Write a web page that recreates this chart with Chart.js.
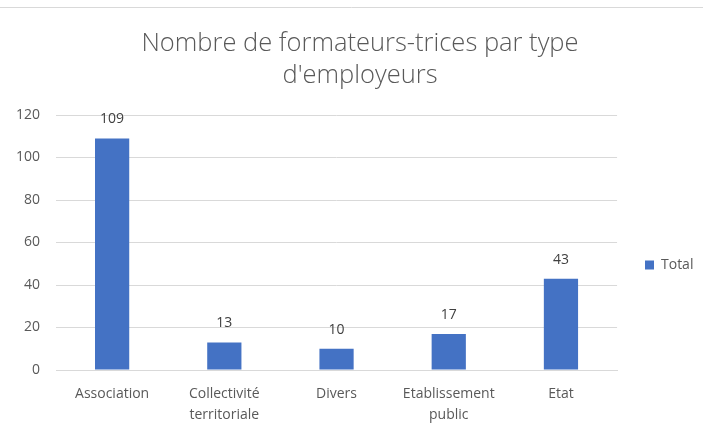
<!DOCTYPE html>
<html>
<head>
<meta charset="utf-8">
<script src="https://cdn.jsdelivr.net/npm/chart.js@4/dist/chart.umd.min.js"></script>
<style>
html,body{margin:0;padding:0;background:#fff;}
#wrap{width:703px;height:432px;position:relative;}
</style>
</head>
<body>
<div id="wrap"><canvas id="c" width="703" height="432"></canvas></div>
<script>
const categories = [["Association"], ["Collectivité", "territoriale"], ["Divers"], ["Etablissement", "public"], ["Etat"]];
const totals = [109, 13, 10, 17, 43];
const seriesName = "Total";
const titleLines = ["Nombre de formateurs-trices par type", "d'employeurs"];
const yTicks = [0, 20, 40, 60, 80, 100, 120];

const fontFam = "'Open Sans', 'Liberation Sans', sans-serif";

const topLine = {
  id: 'topLine',
  beforeDraw(chart) {
    const ctx = chart.ctx;
    ctx.save();
    ctx.fillStyle = '#ffffff';
    ctx.fillRect(0, 0, chart.width, chart.height);
    ctx.strokeStyle = '#d9d9d9';
    ctx.lineWidth = 1;
    ctx.beginPath();
    ctx.moveTo(0, 7.5);
    ctx.lineTo(chart.width, 7.5);
    ctx.stroke();
    ctx.restore();
  }
};

// place legend and title like the reference
const placeBoxes = {
  id: 'placeBoxes',
  afterLayout(chart) {
    const lg = chart.legend;
    if (lg) {
      const w = lg.right - lg.left, h = lg.bottom - lg.top;
      const pad = lg.options.labels.padding;
      lg.left = 645 - pad; lg.right = lg.left + w;
      lg.top = 265 - pad - 7; lg.bottom = lg.top + h;
    }
    const tb = chart.titleBlock;
    if (tb) {
      const dx = 360 - (tb.left + tb.right) / 2;
      tb.left += dx; tb.right += dx;
    }
  }
};

const valueLabels = {
  id: 'valueLabels',
  afterDatasetsDraw(chart) {
    const ctx = chart.ctx;
    const meta = chart.getDatasetMeta(0);
    ctx.save();
    ctx.font = "14px " + fontFam;
    ctx.fillStyle = '#404040';
    ctx.textAlign = 'center';
    ctx.textBaseline = 'middle';
    meta.data.forEach((bar, i) => {
      ctx.fillText(String(chart.data.datasets[0].data[i]), bar.x, bar.y - 19);
    });
    ctx.restore();
  }
};

new Chart(document.getElementById('c'), {
  type: 'bar',
  data: {
    labels: categories,
    datasets: [{
      label: seriesName,
      data: totals,
      backgroundColor: '#4472c4',
      borderColor: '#4472c4',
      borderWidth: 0,
      categoryPercentage: 1.0,
      barPercentage: 0.305
    }]
  },
  options: {
    responsive: false,
    animation: false,
    devicePixelRatio: 1,
    layout: { padding: { left: 0, right: 0, top: 28, bottom: 8 } },
    plugins: {
      title: {
        display: true,
        text: titleLines,
        color: '#595959',
        font: { family: fontFam, size: 25.5, weight: '300', lineHeight: 1.255 },
        padding: { top: 0, bottom: 23 }
      },
      legend: {
        display: true,
        position: 'right',
        align: 'start',
        labels: {
          color: '#595959',
          font: { family: fontFam, size: 14 },
          boxWidth: 9,
          boxHeight: 9,
          padding: 27.5
        }
      },
      tooltip: { enabled: false }
    },
    scales: {
      y: {
        min: 0,
        max: 120,
        afterBuildTicks(scale) { scale.ticks = yTicks.map(v => ({ value: v })); },
        grid: { color: '#d9d9d9', drawTicks: false },
        border: { display: false },
        ticks: { color: '#595959', font: { family: fontFam, size: 14 }, padding: 16 }
      },
      x: {
        afterFit(scale) { scale.height = 54; },
        grid: { display: false, drawTicks: false },
        border: { display: true, color: '#d9d9d9' },
        ticks: { color: '#595959', font: { family: fontFam, size: 14, lineHeight: 1.5 }, padding: 14, maxRotation: 0, autoSkip: false }
      }
    }
  },
  plugins: [topLine, placeBoxes, valueLabels]
});
</script>
</body>
</html>
